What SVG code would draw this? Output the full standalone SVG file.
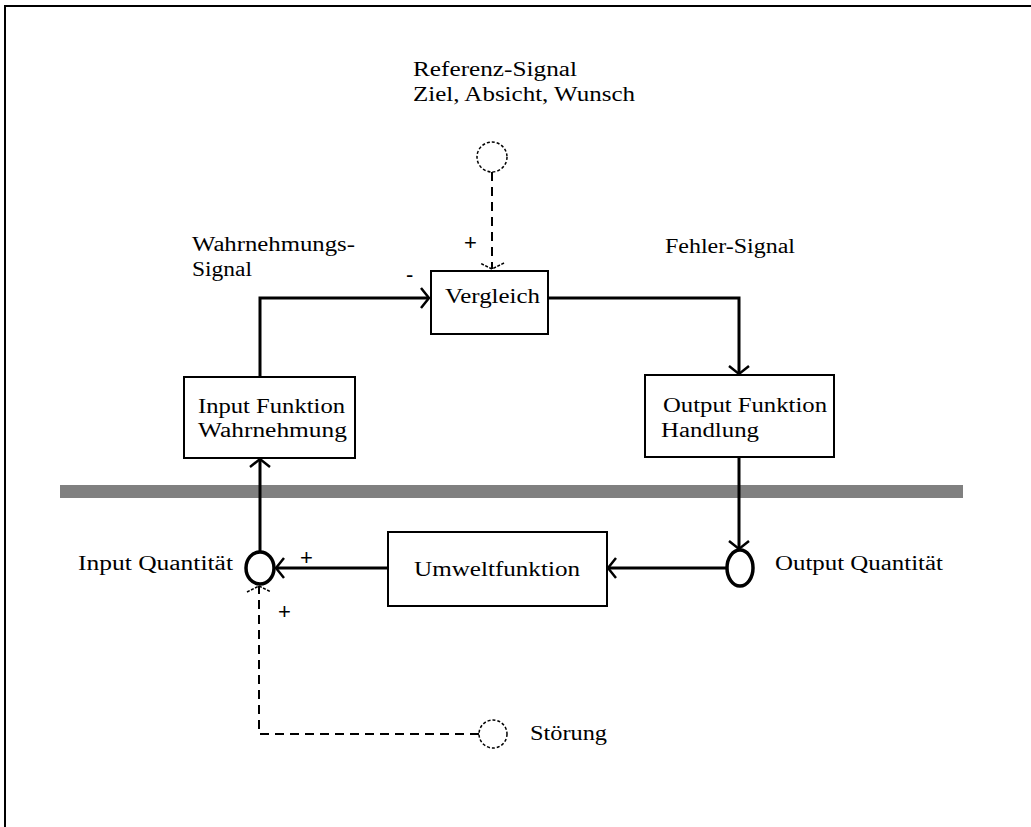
<svg xmlns="http://www.w3.org/2000/svg" width="1031" height="827" viewBox="0 0 1031 827">
<style>
text{font-family:"Liberation Serif","Times New Roman",serif;font-size:20px;fill:#000}
.pm{font-family:"Liberation Sans",Arial,sans-serif;font-size:22px}
.box{fill:#fff;stroke:#000;stroke-width:2}
.solid{fill:none;stroke:#000;stroke-width:3}
.dash{fill:none;stroke:#000;stroke-width:2;stroke-dasharray:9 6}
.dot{fill:#fff;stroke:#000;stroke-width:1.5;stroke-dasharray:3 2}
.sum{fill:#fff;stroke:#000;stroke-width:3.5}
</style>
<defs>
<marker id="ah" markerUnits="userSpaceOnUse" markerWidth="30" markerHeight="30" viewBox="-15 -15 30 30" refX="0" refY="0" orient="auto">
<path d="M-8,-10 L0,0 L-8,10" fill="none" stroke="#000" stroke-width="2.5"/>
</marker>
<marker id="ahd" markerUnits="userSpaceOnUse" markerWidth="30" markerHeight="30" viewBox="-15 -15 30 30" refX="0" refY="0" orient="auto">
<path d="M-6,-12 L0,0 L-6,12" fill="none" stroke="#000" stroke-width="1.6" stroke-dasharray="3 1.5"/>
</marker>
</defs>
<rect width="1031" height="827" fill="#fff"/>
<path d="M5,827 V6 H1031" fill="none" stroke="#000" stroke-width="2"/>
<rect x="60" y="485" width="903" height="13" fill="#808080"/>

<g id="connectors">
<path class="dash" d="M492,172 V269" marker-end="url(#ahd)"/>
<path class="solid" d="M260,377 V298 H429" marker-end="url(#ah)"/>
<path class="solid" d="M548,298 H739 V374" marker-end="url(#ah)"/>
<path class="solid" d="M260,552 V459" marker-end="url(#ah)"/>
<path class="solid" d="M739,457 V549" marker-end="url(#ah)"/>
<path class="solid" d="M726,568 H608" marker-end="url(#ah)"/>
<path class="solid" d="M388,568 H276" marker-end="url(#ah)"/>
<path class="dash" d="M479,734 H259 V586" marker-end="url(#ahd)"/>
</g>

<g id="referenz">
<circle class="dot" cx="492" cy="157" r="15"/>
<text x="413" y="76" textLength="164" lengthAdjust="spacingAndGlyphs">Referenz-Signal</text>
<text x="413" y="101" textLength="222" lengthAdjust="spacingAndGlyphs">Ziel, Absicht, Wunsch</text>
<text class="pm" x="464" y="250">+</text>
</g>

<g id="vergleich">
<rect class="box" x="431" y="271" width="117" height="63"/>
<text x="445" y="303" textLength="95" lengthAdjust="spacingAndGlyphs">Vergleich</text>
<text class="pm" x="406" y="282">-</text>
</g>

<g id="wahrnehmungssignal">
<text x="192" y="251" textLength="163" lengthAdjust="spacingAndGlyphs">Wahrnehmungs-</text>
<text x="192" y="276" textLength="60" lengthAdjust="spacingAndGlyphs">Signal</text>
</g>

<g id="fehlersignal">
<text x="665" y="253" textLength="130" lengthAdjust="spacingAndGlyphs">Fehler-Signal</text>
</g>

<g id="input-funktion">
<rect class="box" x="184" y="377" width="171" height="81"/>
<text x="198" y="413" textLength="147" lengthAdjust="spacingAndGlyphs">Input Funktion</text>
<text x="198" y="437" textLength="149" lengthAdjust="spacingAndGlyphs">Wahrnehmung</text>
</g>

<g id="output-funktion">
<rect class="box" x="645" y="375" width="189" height="82"/>
<text x="663" y="412" textLength="164" lengthAdjust="spacingAndGlyphs">Output Funktion</text>
<text x="661" y="437" textLength="98" lengthAdjust="spacingAndGlyphs">Handlung</text>
</g>

<g id="umweltfunktion">
<rect class="box" x="388" y="532" width="219" height="74"/>
<text x="414" y="576" textLength="166" lengthAdjust="spacingAndGlyphs">Umweltfunktion</text>
</g>

<g id="input-quantitaet">
<ellipse class="sum" cx="260" cy="568" rx="14" ry="16"/>
<text x="78" y="570" textLength="155" lengthAdjust="spacingAndGlyphs">Input Quantität</text>
<text class="pm" x="300" y="565">+</text>
<text class="pm" x="278" y="619">+</text>
</g>

<g id="output-quantitaet">
<ellipse class="sum" cx="740" cy="568" rx="13" ry="18"/>
<text x="775" y="570" textLength="168" lengthAdjust="spacingAndGlyphs">Output Quantität</text>
</g>

<g id="stoerung">
<circle class="dot" cx="493" cy="734" r="14"/>
<text x="530" y="740" textLength="77" lengthAdjust="spacingAndGlyphs">Störung</text>
</g>
</svg>
